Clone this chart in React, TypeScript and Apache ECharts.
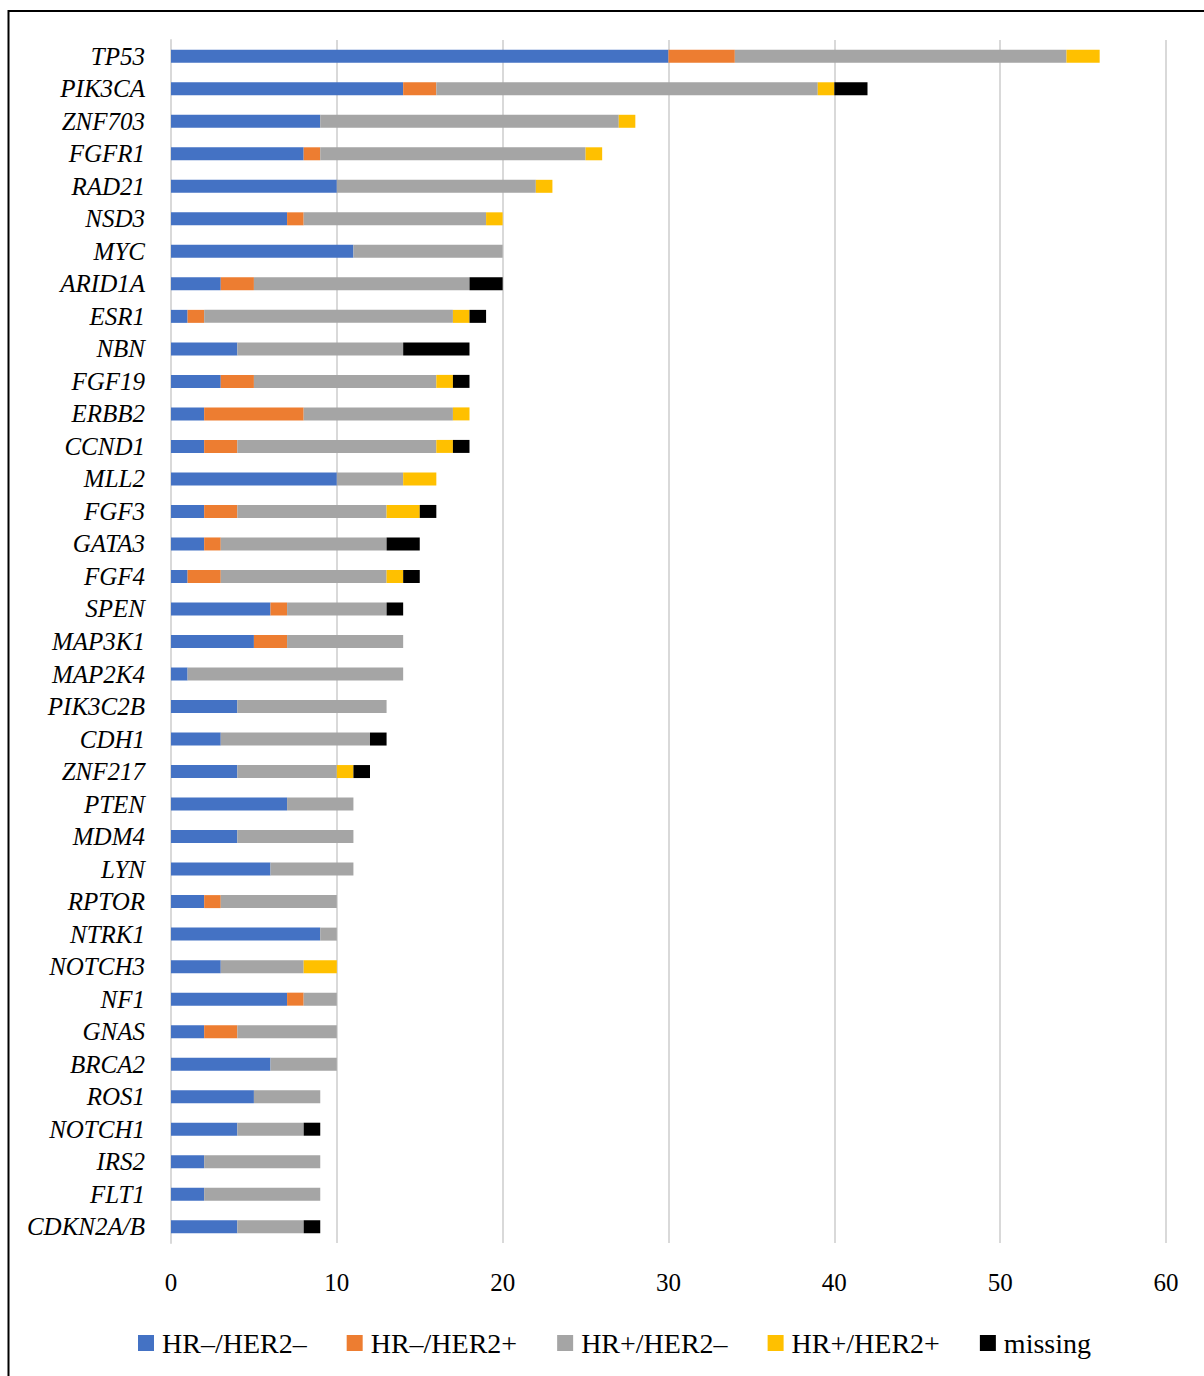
import React, { useEffect, useRef } from "react";
import * as echarts from "echarts";

const genes = ["TP53","PIK3CA","ZNF703","FGFR1","RAD21","NSD3","MYC","ARID1A","ESR1","NBN","FGF19","ERBB2","CCND1","MLL2","FGF3","GATA3","FGF4","SPEN","MAP3K1","MAP2K4","PIK3C2B","CDH1","ZNF217","PTEN","MDM4","LYN","RPTOR","NTRK1","NOTCH3","NF1","GNAS","BRCA2","ROS1","NOTCH1","IRS2","FLT1","CDKN2A/B"];

const hrNegHer2Neg = [30,14,9,8,10,7,11,3,1,4,3,2,2,10,2,2,1,6,5,1,4,3,4,7,4,6,2,9,3,7,2,6,5,4,2,2,4];
const hrNegHer2Pos = [4,2,0,1,0,1,0,2,1,0,2,6,2,0,2,1,2,1,2,0,0,0,0,0,0,0,1,0,0,1,2,0,0,0,0,0,0];
const hrPosHer2Neg = [20,23,18,16,12,11,9,13,15,10,11,9,12,4,9,10,10,6,7,13,9,9,6,4,7,5,7,1,5,2,6,4,4,4,7,7,4];
const hrPosHer2Pos = [2,1,1,1,1,1,0,0,1,0,1,1,1,2,2,0,1,0,0,0,0,0,1,0,0,0,0,0,2,0,0,0,0,0,0,0,0];
const missing = [0,2,0,0,0,0,0,2,1,4,1,0,1,0,1,2,1,1,0,0,0,1,1,0,0,0,0,0,0,0,0,0,0,1,0,0,1];

const seriesNames = ["HR–/HER2–","HR–/HER2+","HR+/HER2–","HR+/HER2+","missing"];
const seriesColors = ["#4472C4","#ED7D31","#A5A5A5","#FFC000","#000000"];
const seriesData = [hrNegHer2Neg, hrNegHer2Pos, hrPosHer2Neg, hrPosHer2Pos, missing];

const FONT = "'Liberation Serif', 'Times New Roman', serif";

export default function App() {
  const ref = useRef<HTMLDivElement>(null);
  useEffect(() => {
    if (!ref.current) return;
    const chart = echarts.init(ref.current, null, { renderer: "svg" });
    chart.setOption({
      animation: false,
      backgroundColor: "#ffffff",
      textStyle: { fontFamily: FONT },
      graphic: [
        {
          type: "rect",
          shape: { x: 8.5, y: 11, width: 1400, height: 1600 },
          style: { fill: "none", stroke: "#000", lineWidth: 2 },
          silent: true,
          z: 100,
        },
      ],
      legend: {
        left: 133,
        top: 1324,
        itemWidth: 16,
        itemHeight: 16,
        itemGap: 40,
        icon: "rect",
        textStyle: { fontFamily: FONT, fontSize: 28, color: "#000", padding: [0, 0, 0, 3] },
        data: seriesNames,
      },
      grid: { left: 171, right: 38, top: 40, bottom: 133, containLabel: false },
      xAxis: {
        type: "value",
        min: 0,
        max: 60,
        interval: 10,
        axisLine: { show: false },
        axisTick: { show: false },
        axisLabel: { fontFamily: FONT, fontSize: 25, color: "#000", margin: 27 },
        splitLine: { show: true, lineStyle: { color: "#D9D9D9", width: 2 } },
      },
      yAxis: {
        type: "category",
        inverse: true,
        data: genes,
        axisLine: { show: true, lineStyle: { color: "#D9D9D9", width: 2 } },
        axisTick: { show: false },
        axisLabel: { fontFamily: FONT, fontSize: 25, fontStyle: "italic", color: "#000", margin: 26 },
      },
      series: seriesNames.map((name, i) => ({
        name,
        type: "bar",
        stack: "total",
        barWidth: 13,
        data: seriesData[i],
        itemStyle: { color: seriesColors[i] },
      })),
    });
    return () => chart.dispose();
  }, []);
  return (
    <div
      ref={ref}
      style={{ position: "absolute", left: 0, top: 0, width: 1204, height: 1376 }}
    />
  );
}
